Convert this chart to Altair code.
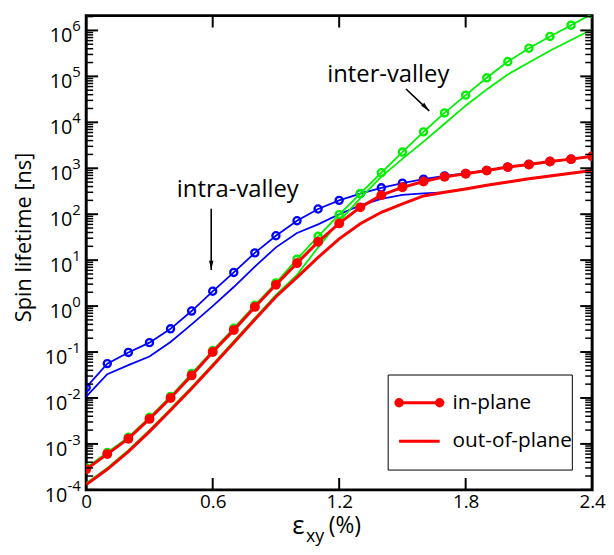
import altair as alt
import pandas as pd

# ---------------- data ----------------
strain = [0.0, 0.1, 0.2, 0.3, 0.4, 0.5, 0.6, 0.7, 0.8, 0.9, 1.0, 1.1, 1.2,
          1.3, 1.4, 1.5, 1.6, 1.7, 1.8, 1.9, 2.0, 2.1, 2.2, 2.3, 2.4]

# intra-valley (blue)
intra_in = [0.017, 0.056, 0.098, 0.16, 0.32, 0.78, 2.1, 5.4, 14.4, 34, 72, 130, 200,
            280, 375, 475, 580, 680, 770, 900, 1060, 1210, 1400, 1580, 1820]
intra_out = [0.0107, 0.033, 0.052, 0.08, 0.165, 0.40, 1.0, 2.6, 7.2, 19, 39, 60, 100,
             155, 215, 262, 285, 300, 355, 425, 500, 590, 680, 780, 890]
# inter-valley (green)
inter_in = [3.0e-4, 6.5e-4, 1.4e-3, 3.8e-3, 0.0108, 0.034, 0.108, 0.33, 1.04, 3.2, 10.5, 33, 98,
            282, 800, 2250, 6200, 1.6e4, 3.9e4, 9.3e4, 2.1e5, 4.1e5, 7.4e5, 1.3e6, 2.3e6]
inter_out = [1.4e-4, 3.0e-4, 7.3e-4, 2.0e-3, 5.8e-3, 0.0173, 0.054, 0.173, 0.55, 1.75, 4.8, 19, 70,
             220, 660, 1600, 3800, 9300, 2.3e4, 5.2e4, 1.1e5, 2.0e5, 3.6e5, 6.2e5, 1.05e6]
# total (red)
total_in = [2.8e-4, 6.0e-4, 1.3e-3, 3.5e-3, 0.010, 0.031, 0.10, 0.30, 0.96, 2.9, 8.6, 25, 63,
            141, 260, 385, 515, 650, 760, 890, 1060, 1210, 1400, 1580, 1820]
total_out = [1.3e-4, 2.8e-4, 6.8e-4, 1.85e-3, 5.4e-3, 0.016, 0.05, 0.16, 0.51, 1.6, 4.2, 11.5, 29,
             62, 110, 168, 250, 300, 355, 425, 500, 590, 680, 780, 890]

x_label_values = [0, 0.6, 1.2, 1.8, 2.4]
x_tick_values = [0.6, 1.2, 1.8]
y_exponents = [-4, -3, -2, -1, 0, 1, 2, 3, 4, 5, 6]
minor_multipliers = [2, 3, 4, 5, 6, 7, 8, 9]

# annotation anchors (data units)
intra_text = {"x": 0.719, "y": 240, "t": "intra-valley"}
inter_text = {"x": 1.433, "y": 7.6e4, "t": "inter-valley"}
intra_arrow = {"x": 0.593, "y": 132, "x2": 0.593, "y2": 6.1}
inter_arrow = {"x": 1.517, "y": 5.3e4, "x2": 1.627, "y2": 1.77e4}

# ---------------- setup ----------------
W, H = 511, 479
FONT = "Open Sans"
BLUE, GREEN, RED = "#0000ff", "#00f000", "#ff0000"

Y_MAX = 2.1e6
xs = alt.Scale(domain=[0, 2.4], nice=False, zero=False)
ys = alt.Scale(type="log", domain=[1e-4, Y_MAX], nice=False)

x_axis = alt.Axis(values=x_label_values,
                  labelExpr="datum.value == 0 ? '0' : format(datum.value, '.1f')",
                  ticks=False, tickSize=0, domain=False, grid=False, title=None,
                  labelFont=FONT, labelFontSize=19, labelColor="black",
                  labelPadding=3, labelFlush=False, labelOverlap=False)
y_axis = alt.Axis(labels=False, ticks=False, domain=False, grid=False,
                  title="Spin lifetime [ns]", titleFont=FONT, titleFontSize=22,
                  titleFontWeight="normal", titleColor="black",
                  titleX=-56, titleY=223.5, titleAngle=270,
                  titleAlign="center", titleBaseline="alphabetic")


def X(field):
    return alt.X(f"{field}:Q", scale=xs, axis=x_axis)


def Y(field):
    return alt.Y(f"{field}:Q", scale=ys, axis=y_axis)


def X2(field):
    return alt.X2(f"{field}:Q")


def Y2(field):
    return alt.Y2(f"{field}:Q")


def series(vals):
    return pd.DataFrame({"strain": strain, "value": vals})


def line(vals, color, width):
    return alt.Chart(series(vals)).mark_line(color=color, strokeWidth=width, clip=True).encode(
        x=X("strain"), y=Y("value"))


def open_pts(vals, color):
    return alt.Chart(series(vals)).mark_point(
        shape="circle", filled=False, size=52, strokeWidth=2.3, color=color, opacity=1, clip=True
    ).encode(x=X("strain"), y=Y("value"))


def full_pts(vals, color):
    return alt.Chart(series(vals)).mark_point(
        shape="circle", filled=True, size=100, color=color, opacity=1, clip=True
    ).encode(x=X("strain"), y=Y("value"))


layers = [
    line(intra_out, BLUE, 1.8),
    line(intra_in, BLUE, 1.8),
    open_pts(intra_in, BLUE),
    line(inter_out, GREEN, 1.8),
    line(inter_in, GREEN, 1.8),
    open_pts(inter_in, GREEN),
    line(total_out, RED, 3),
    line(total_in, RED, 3),
    full_pts(total_in, RED),
]

# ---------------- inward ticks ----------------
major_df = pd.DataFrame({"v": [10.0 ** e for e in y_exponents]})
minor_df = pd.DataFrame({"v": [m * 10.0 ** e for e in y_exponents for m in minor_multipliers
                               if m * 10.0 ** e <= Y_MAX]})
xt_df = pd.DataFrame({"v": x_tick_values})

for df, length, sw in [(major_df, 12, 2), (minor_df, 7, 1.5)]:
    layers.append(alt.Chart(df).mark_rule(color="black", strokeWidth=sw).encode(
        y=Y("v"), x=alt.value(0), x2=alt.value(length)))
    layers.append(alt.Chart(df).mark_rule(color="black", strokeWidth=sw).encode(
        y=Y("v"), x=alt.value(W - length), x2=alt.value(W)))
layers.append(alt.Chart(xt_df).mark_rule(color="black", strokeWidth=2).encode(
    x=X("v"), y=alt.value(H - 12), y2=alt.value(H)))
layers.append(alt.Chart(xt_df).mark_rule(color="black", strokeWidth=2).encode(
    x=X("v"), y=alt.value(0), y2=alt.value(12)))

# ---------------- y tick labels 10^n ----------------
ylab_df = pd.DataFrame({"v": [10.0 ** e for e in y_exponents],
                        "e": [str(e) for e in y_exponents],
                        "neg": [e < 0 for e in y_exponents]})
for neg, xpos in [(False, -14), (True, -19)]:
    sub = ylab_df[ylab_df["neg"] == neg]
    layers.append(alt.Chart(sub).mark_text(
        text="10", align="right", baseline="alphabetic", dy=12, font=FONT, fontSize=20, color="black"
    ).encode(y=Y("v"), x=alt.value(xpos)))
    layers.append(alt.Chart(sub).mark_text(
        align="left", baseline="alphabetic", dy=1, font=FONT, fontSize=15, color="black"
    ).encode(y=Y("v"), x=alt.value(xpos), text="e:N"))

# ---------------- annotations ----------------
for a in [intra_text, inter_text]:
    layers.append(alt.Chart(pd.DataFrame([a])).mark_text(
        font=FONT, fontSize=24, align="center", baseline="alphabetic", color="black"
    ).encode(x=X("x"), y=Y("y"), text="t:N"))

ARROW_HEAD = "M0,0L-0.33,-1.4L0.33,-1.4Z"
for a, ang in [(intra_arrow, 0), (inter_arrow, 316)]:
    adf = pd.DataFrame([a])
    layers.append(alt.Chart(adf).mark_rule(color="black", strokeWidth=1.6).encode(
        x=X("x"), y=Y("y"), x2=X2("x2"), y2=Y2("y2")))
    layers.append(alt.Chart(adf).mark_point(
        shape=ARROW_HEAD, filled=True, size=180, color="black", opacity=1, angle=ang
    ).encode(x=X("x2"), y=Y("y2")))

# ---------------- legend ----------------
one = pd.DataFrame({"k": [0]})
layers.append(alt.Chart(one).mark_rect(fill="white", stroke="black", strokeWidth=1).encode(
    x=alt.value(305), x2=alt.value(491), y=alt.value(363), y2=alt.value(459)))
layers.append(alt.Chart(one).mark_rule(color=RED, strokeWidth=3).encode(
    x=alt.value(316), x2=alt.value(357), y=alt.value(391)))
for px in [316, 357]:
    layers.append(alt.Chart(one).mark_point(shape="circle", filled=True, size=90, color=RED, opacity=1).encode(
        x=alt.value(px), y=alt.value(391)))
layers.append(alt.Chart(one).mark_rule(color=RED, strokeWidth=3).encode(
    x=alt.value(316), x2=alt.value(357), y=alt.value(430)))
for txt, py in [("in-plane", 391), ("out-of-plane", 430)]:
    layers.append(alt.Chart(one).mark_text(
        text=txt, align="left", baseline="middle", font=FONT, fontSize=21, color="black"
    ).encode(x=alt.value(370), y=alt.value(py)))

# ---------------- x title: ε_xy (%) ----------------
layers.append(alt.Chart(one).mark_text(
    text="ε", align="left", baseline="alphabetic", font=FONT, fontSize=26, color="black"
).encode(x=alt.value(208), y=alt.value(524)))
layers.append(alt.Chart(one).mark_text(
    text="xy", align="left", baseline="alphabetic", font=FONT, fontSize=18, color="black"
).encode(x=alt.value(222), y=alt.value(532)))
layers.append(alt.Chart(one).mark_text(
    text="(%)", align="left", baseline="alphabetic", font=FONT, fontSize=23, color="black"
).encode(x=alt.value(245), y=alt.value(523)))

chart = alt.layer(*layers).properties(
    width=W, height=H,
    autosize=alt.AutoSizeParams(type="none"),
    padding={"left": 79, "top": 5, "right": 14, "bottom": 54},
).configure_view(stroke="black", strokeWidth=3)

chart.save("out.html", embed_options={"renderer": "svg", "actions": False})
